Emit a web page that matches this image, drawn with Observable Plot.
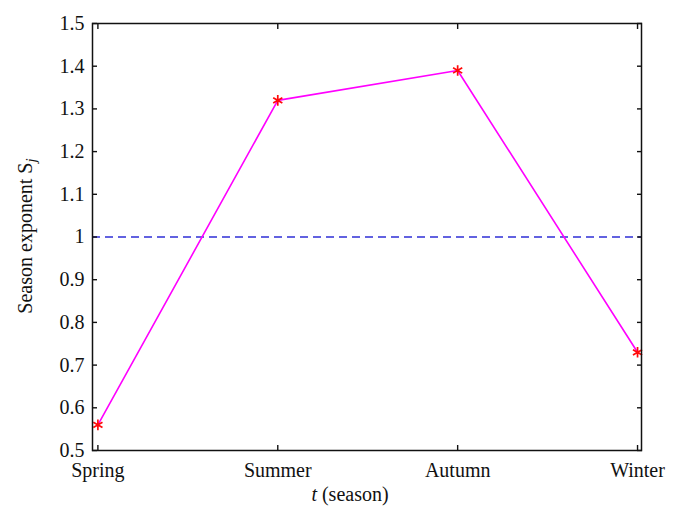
<!DOCTYPE html>
<html><head><meta charset="utf-8">
<script src="https://cdn.jsdelivr.net/npm/d3@7"></script>
<script src="https://cdn.jsdelivr.net/npm/@observablehq/plot@0.6"></script>
<style>body{margin:0;background:#fff} svg{display:block}</style>
</head><body><div id="chart"></div>
<script>
const seasons = ["Spring", "Summer", "Autumn", "Winter"];
const seasonIndex = [1, 2, 3, 4];
const exponent = [0.56, 1.32, 1.39, 0.73];
const yTicks = [0.5, 0.6, 0.7, 0.8, 0.9, 1.0, 1.1, 1.2, 1.3, 1.4, 1.5];
const reference = [1];
const xTitle = ["t", " (season)"];
const yTitle = ["Season exponent S", "j"];

const data = seasons.map((s, i) => ({season: s, t: seasonIndex[i], S: exponent[i]}));
const fmtX = d => seasons[seasonIndex.indexOf(d)];
const fmtY = d => String(+d.toFixed(1));
const FONT = "'Liberation Serif', 'Times New Roman', serif";

const plot = Plot.plot({
  width: 682, height: 517,
  marginLeft: 92, marginRight: 41, marginTop: 23, marginBottom: 67,
  style: {fontFamily: FONT, fontSize: "20px", color: "#111", background: "#fff"},
  x: {domain: [0.97, 4.022]},
  y: {domain: [0.5, 1.5]},
  marks: [
    Plot.ruleY(reference, {stroke: "#2f2fd6", strokeWidth: 1.5, strokeDasharray: "8,5"}),
    Plot.line(data, {x: "t", y: "S", stroke: "#ff00ff", strokeWidth: 1.6}),
    Plot.dot(data, {x: "t", y: "S", symbol: "asterisk", stroke: "#ff0a0a", r: 5, strokeWidth: 1.7}),
    Plot.axisX({ticks: seasonIndex, tickFormat: fmtX, tickSize: 0, tickPadding: 12, fontSize: 20, label: null}),
    Plot.axisX({ticks: seasonIndex, text: null, tickSize: 5, dy: -5, label: null, stroke: "#111", strokeWidth: 1.4}),
    Plot.axisX({anchor: "top", ticks: seasonIndex, text: null, tickSize: 5, dy: 5, label: null, stroke: "#111", strokeWidth: 1.4}),
    Plot.axisY({ticks: yTicks, tickFormat: fmtY, tickSize: 0, tickPadding: 8, fontSize: 20, label: null}),
    Plot.axisY({ticks: yTicks, text: null, tickSize: 5, dx: 5, label: null, stroke: "#111", strokeWidth: 1.4}),
    Plot.axisY({anchor: "right", ticks: yTicks, text: null, tickSize: 5, dx: -5, label: null, stroke: "#111", strokeWidth: 1.4}),
    Plot.frame({stroke: "#111", strokeWidth: 1.5})
  ]
});

const svg = d3.select(plot);
const xt = svg.append("text")
  .attr("x", 350).attr("y", 501)
  .attr("text-anchor", "middle")
  .attr("font-family", FONT)
  .attr("font-size", 20).attr("fill", "#111");
xt.append("tspan").attr("font-style", "italic").text(xTitle[0]);
xt.append("tspan").text(xTitle[1]);

const yt = svg.append("text")
  .attr("transform", "translate(32,236) rotate(-90)")
  .attr("text-anchor", "middle")
  .attr("font-family", FONT)
  .attr("font-size", 20).attr("fill", "#111");
yt.append("tspan").text(yTitle[0]);
yt.append("tspan").attr("font-style", "italic").attr("font-size", 15).attr("dy", 4).text(yTitle[1]);

document.getElementById("chart").appendChild(plot);
</script>
</body></html>
